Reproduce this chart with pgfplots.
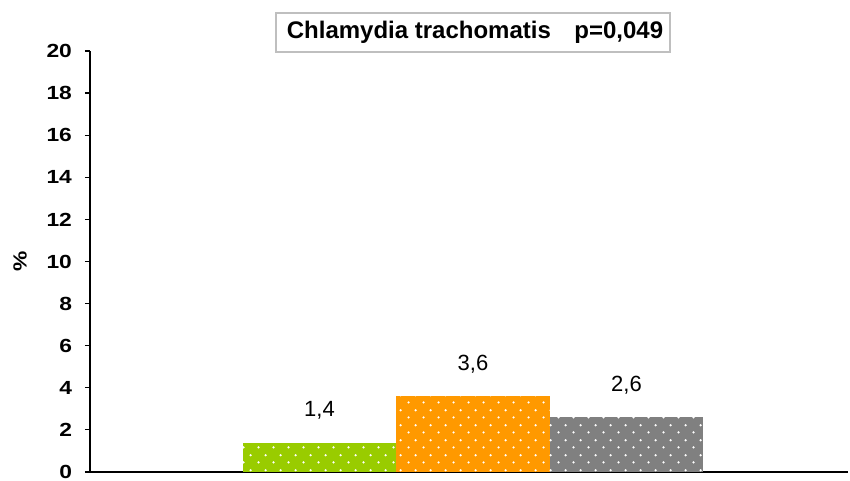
\documentclass[border=0pt]{standalone}
\usepackage{fontspec}
\setmainfont{Liberation Sans}
\newfontfamily\wbold[FakeStretch=1.2]{Liberation Sans Bold}
\usepackage{pgfplots}
\pgfplotsset{compat=1.18}
\usetikzlibrary{patterns}
\pgfdeclarepatternformonly{sdots}{\pgfqpoint{0pt}{0pt}}{\pgfqpoint{7.5pt}{7.5pt}}{\pgfqpoint{7.5pt}{7.5pt}}{%
  \pgfpathcircle{\pgfqpoint{1.875pt}{1.875pt}}{0.65pt}%
  \pgfpathcircle{\pgfqpoint{5.625pt}{5.625pt}}{0.65pt}%
  \pgfusepath{fill}}
\definecolor{cgreen}{HTML}{99CC00}
\definecolor{corange}{HTML}{FF9900}
\definecolor{cgray}{HTML}{808080}
\begin{document}
\begin{tikzpicture}
\begin{axis}[
  scale only axis,
  width=379pt, height=210.5pt,
  xmin=90, xmax=848,
  ymin=0, ymax=20,
  ytick={0,2,...,20},
  xtick=\empty,
  axis x line=bottom, axis y line=left,
  axis line style={-, line width=0.8pt, black},
  tick align=outside,
  major tick length=2.5pt,
  every tick/.style={black, line width=0.6pt},
  /pgf/number format/assume math mode=true,
  tick label style={font=\wbold\fontsize{9.5}{11}\selectfont},
  yticklabel style={xshift=-3pt},
  ybar, bar width=153.5, bar shift=0pt,
  nodes near coords,
  nodes near coords style={font=\fontsize{11}{13}\selectfont, yshift=8pt,
    /pgf/number format/.cd, fixed, fixed zerofill, precision=1, use comma, assume math mode=true},
  clip=false,
]
\addplot[draw=none, fill=cgreen, postaction={pattern=sdots, pattern color=white}] coordinates {(319.5,1.4)};
\addplot[draw=none, fill=corange, postaction={pattern=sdots, pattern color=white}] coordinates {(473,3.6)};
\addplot[draw=none, fill=cgray, postaction={pattern=sdots, pattern color=white}] coordinates {(626.5,2.6)};
\draw[draw=black!25, line width=1pt, fill=white] (axis cs:276,21.8) rectangle (axis cs:670,19.95);
\node[font=\fontsize{12}{14}\selectfont\bfseries] at (axis cs:475,20.88) {Chlamydia trachomatis\hspace{0.7em} p=0,049};
\node[rotate=90, font=\wbold\fontsize{9.5}{11}\selectfont] at (rel axis cs:-0.0923,0.5) {\%};
\coordinate (ll) at (rel axis cs:0,0);
\coordinate (ur) at (rel axis cs:1,1);
\end{axis}
\pgfresetboundingbox
\path[use as bounding box] ([xshift=-45pt,yshift=-4.5pt]ll) rectangle ([xshift=1pt,yshift=25.5pt]ur);
\end{tikzpicture}
\end{document}
